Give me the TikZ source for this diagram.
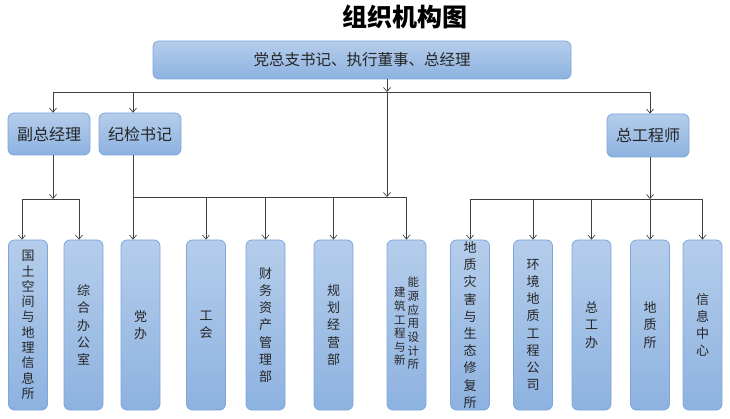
\documentclass[tikz,border=0pt]{standalone}
\usepackage{fontspec}
\newfontfamily\cjk{Noto Sans CJK SC}
\usetikzlibrary{arrows.meta}
\definecolor{boxtop}{HTML}{B5CDEB}
\definecolor{boxbot}{HTML}{8DB2E0}
\definecolor{boxline}{HTML}{7DA6D9}
\definecolor{linegray}{HTML}{404040}
\tikzset{
  orgbox/.style={draw=boxline, line width=0.8pt, rounded corners=6pt,
    top color=boxtop, bottom color=boxbot, inner sep=0pt,
    text=black!85, align=center},
  unitbox/.style={orgbox, minimum width=39pt, minimum height=170pt,
    font=\cjk\fontsize{13}{17.2}\selectfont},
}
\newcommand{\vcol}[1]{\begin{tabular}{@{}c@{}}#1\end{tabular}}

\begin{document}
\begin{tikzpicture}[x=1pt,y=-1pt,>={Straight Barb[length=4pt,width=7pt]}]
			\useasboundingbox (0,0) rectangle (730,419);
			% Title
			\node (title) at (405,17) {\cjk\bfseries\fontsize{25}{25}\selectfont 组织机构图};
			% Top level
			\node[orgbox, minimum width=418pt, minimum height=38pt, font=\cjk\fontsize{15.5}{16}\selectfont] (top) at (362,60) {党总支书记、执行董事、总经理};
			% Second level
			\node[orgbox, minimum width=82pt, minimum height=42pt, font=\cjk\fontsize{16}{16}\selectfont] (fz) at (49,134) {副总经理};
			\node[orgbox, minimum width=82pt, minimum height=42pt, font=\cjk\fontsize{16}{16}\selectfont] (jj) at (140,134) {纪检书记};
			\node[orgbox, minimum width=82pt, minimum height=43pt, font=\cjk\fontsize{16}{16}\selectfont] (zg) at (648,135.5) {总工程师};
			% Units
			\node[unitbox, font=\cjk\fontsize{13}{15.3}\selectfont] (gt) at (28,325) {国\\土\\空\\间\\与\\地\\理\\信\\息\\所};
			\node[unitbox] (zh) at (83.5,325) {综\\合\\办\\公\\室};
			\node[unitbox] (db) at (140.5,325) {党\\办};
			\node[unitbox] (gh) at (206,325) {工\\会};
			\node[unitbox] (cw) at (265.5,325) {财\\务\\资\\产\\管\\理\\部};
			\node[unitbox] (gj) at (333.5,325) {规\\划\\经\\营\\部};
			\node[unitbox, font=\cjk\fontsize{11.5}{13.5}\selectfont] (ny) at (406.5,325)
			  {\raisebox{-3pt}{\vcol{建\\筑\\工\\程\\与\\新}}\hspace{2pt}\vcol{能\\源\\应\\用\\设\\计\\所}};
			\node[unitbox] (dz) at (470,325) {地\\质\\灾\\害\\与\\生\\态\\修\\复\\所};
			\node[unitbox] (hj) at (533,325) {环\\境\\地\\质\\工\\程\\公\\司};
			\node[unitbox] (zgb) at (591.5,325) {总\\工\\办};
			\node[unitbox] (dzs) at (650,325) {地\\质\\所};
			\node[unitbox] (xx) at (702.5,325) {信\\息\\中\\心};
			% junctions
			\coordinate (j0) at (387,92);
			\coordinate (j1) at (387,197);
			\coordinate (fk) at (53,199);
			\coordinate (jk) at (133,197);
			\coordinate (zk) at (650,199);
			% connectors
			\begin{scope}[draw=linegray, line width=0.7pt]
			\draw[->] (top.south -| j0) -- (j0);
			\draw[->] (j0) -| (fz.north -| fk);
			\draw[->] (j0) -| (jj.north -| jk);
			\draw[->] (j0) -| (zg.north -| zk);
			\draw[->] (j0) -- (j1);
			% deputy manager
			\draw[->] (fz.south -| fk) -- (fk);
			\draw[->] (fk) -| ([xshift=-6pt]gt.north);
			\draw[->] (fk) -| ([xshift=-4.5pt]zh.north);
			% discipline secretary
			\draw[->] (jj.south -| jk) -- (db.north -| jk);
			\draw (j1) -- (jk);
			\draw[->] (j1) -| (gh.north);
			\draw[->] (j1) -| (cw.north);
			\draw[->] (j1) -| (gj.north);
			\draw[->] (j1) -| (ny.north);
			% chief engineer
			\draw[->] (zg.south -| zk) -- (zk);
			\draw[->] (zk) -| (dz.north);
			\draw[->] (zk) -| (hj.north);
			\draw[->] (zk) -| (zgb.north);
			\draw[->] (zk) -- (dzs.north);
			\draw[->] (zk) -| (xx.north);
			\end{scope}
		\end{tikzpicture}
\end{document}
